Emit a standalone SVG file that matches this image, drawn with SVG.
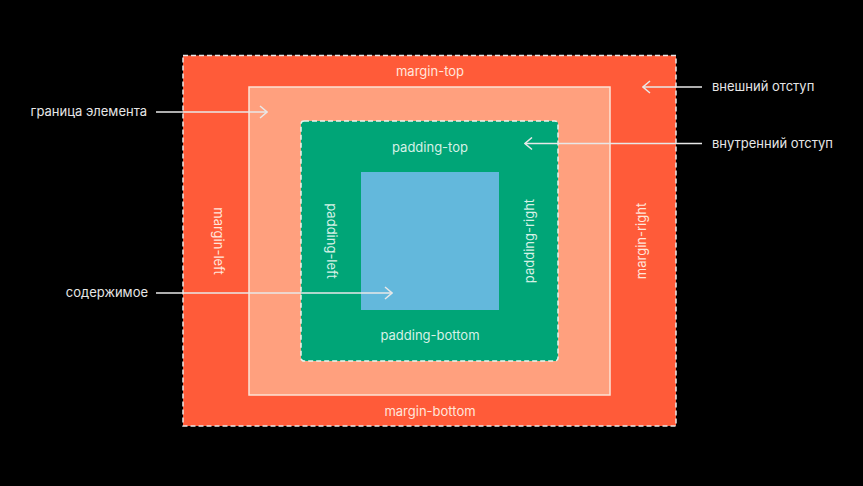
<svg xmlns="http://www.w3.org/2000/svg" width="863" height="486" viewBox="0 0 863 486">
<defs>
<style>
.lbl{font-family:Inter,"Liberation Sans",sans-serif;font-size:13px;fill:#ffe6dc;text-anchor:middle}
.lblg{font-family:Inter,"Liberation Sans",sans-serif;font-size:13px;fill:#d6f1e6;text-anchor:middle}
.note{font-family:Inter,"Liberation Sans",sans-serif;font-size:13px;fill:#e6e6e6}
.conn{stroke:#e8e8e8;stroke-width:1.5;fill:none}
</style>
<marker id="ah" viewBox="0 0 10 14" refX="9" refY="7" markerWidth="10" markerHeight="14" markerUnits="userSpaceOnUse" orient="auto">
<path d="M2,1 L9,7 L2,13" fill="none" stroke="#e8e8e8" stroke-width="1.5"/>
</marker>
</defs>
<rect width="863" height="486" fill="#000"/>
<g id="margin">
<rect x="183" y="55.5" width="493" height="370.5" fill="#ff5b39" stroke="#e8e8e8" stroke-width="1.5" stroke-dasharray="5 3"/>
<text class="lbl" x="430" y="76">margin-top</text>
<text class="lbl" x="430" y="416">margin-bottom</text>
<text class="lbl" transform="translate(214 241) rotate(90)">margin-left</text>
<text class="lbl" transform="translate(646 241) rotate(-90)">margin-right</text>
</g>
<g id="border">
<rect x="249" y="87" width="361" height="308" fill="#ffa07e" stroke="#fde3d6" stroke-width="1.5"/>
</g>
<g id="padding">
<rect x="301" y="121" width="257" height="240" rx="3" fill="#00a577" stroke="#e8f5ef" stroke-width="1.5" stroke-dasharray="5 3"/>
<text class="lblg" x="430" y="152">padding-top</text>
<text class="lblg" x="430" y="340">padding-bottom</text>
<text class="lblg" transform="translate(327 241) rotate(90)">padding-left</text>
<text class="lblg" transform="translate(534 241) rotate(-90)">padding-right</text>
</g>
<g id="content">
<rect x="361" y="172" width="138" height="138" fill="#63b8dc"/>
</g>
<g id="connectors">
<line class="conn" x1="156" y1="112" x2="267" y2="112" marker-end="url(#ah)"/>
<line class="conn" x1="156" y1="293" x2="392" y2="293" marker-end="url(#ah)"/>
<line class="conn" x1="702" y1="87" x2="643" y2="87" marker-end="url(#ah)"/>
<line class="conn" x1="702" y1="143.5" x2="525" y2="143.5" marker-end="url(#ah)"/>
</g>
<g id="notes">
<text class="note" x="147" y="116" text-anchor="end">граница элемента</text>
<text class="note" x="148" y="297" text-anchor="end">содержимое</text>
<text class="note" x="712" y="91">внешний отступ</text>
<text class="note" x="712" y="148">внутренний отступ</text>
</g>
</svg>
